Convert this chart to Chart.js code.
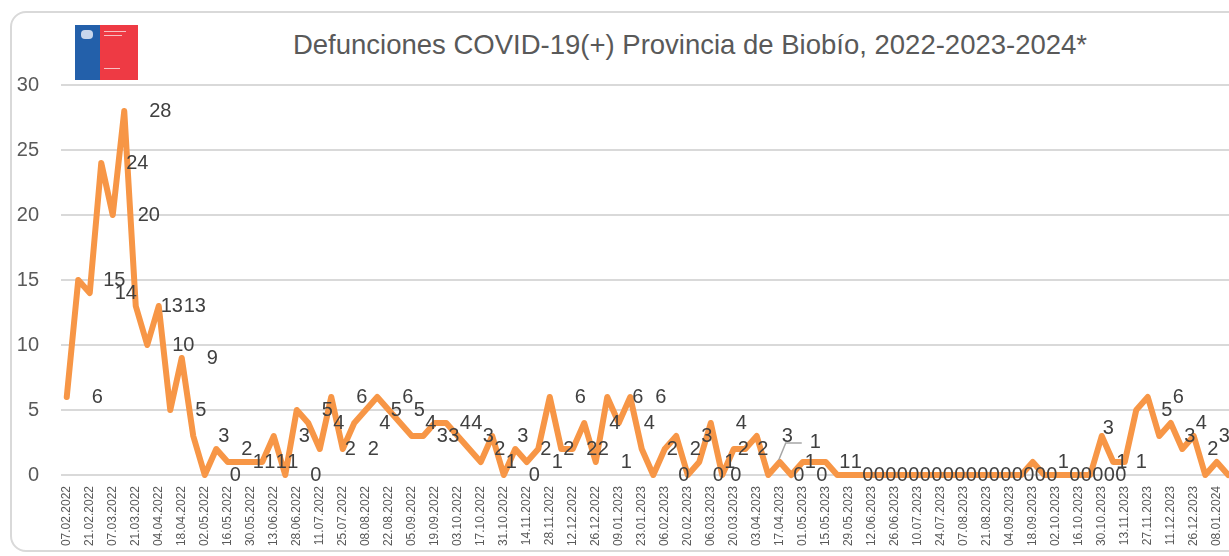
<!DOCTYPE html>
<html>
<head>
<meta charset="utf-8">
<script src="https://cdn.jsdelivr.net/npm/chart.js@4.4.1/dist/chart.umd.min.js"></script>
<style>
  html, body { margin: 0; padding: 0; background: #fff; overflow: hidden; }
  #wrap { position: relative; width: 1229px; height: 556px; overflow: hidden; }
  #frame { position: absolute; left: 10px; top: 11px; width: 1250px; height: 541px;
    border: 2px solid #d9d9d9; border-radius: 16px; box-sizing: border-box; }
  #title { position: absolute; left: 290px; width: 800px; top: 29px; text-align: center;
    font: 27.5px "Liberation Sans", Arial, sans-serif; color: #595959; white-space: nowrap; }
  #logo { position: absolute; left: 75px; top: 25px; width: 63px; height: 55px; }
  #logo .blue { position: absolute; left: 0; top: 0; width: 25px; height: 55px; background: #2360aa; }
  #logo .red { position: absolute; left: 25px; top: 0; width: 38px; height: 55px; background: #ee3a44; }
  #logo .emb { position: absolute; left: 6px; top: 5px; width: 12px; height: 9px; background: #c9d7ec; border-radius: 4px; }
  #logo .t1 { position: absolute; left: 4px; top: 6px; width: 22px; height: 1px; background: #f7c0c3; }
  #logo .t2 { position: absolute; left: 4px; top: 10px; width: 18px; height: 1px; background: #f7c0c3; }
  #logo .t3 { position: absolute; left: 4px; top: 43px; width: 16px; height: 1px; background: #f7c0c3; }
  #chart { position: absolute; left: 0; top: 0; }
</style>
</head>
<body>
<div id="wrap">
  <div id="frame"></div>
  <div id="logo"><div class="blue"><div class="emb"></div></div><div class="red"><div class="t1"></div><div class="t2"></div><div class="t3"></div></div></div>
  <div id="title">Defunciones COVID-19(+) Provincia de Biobío, 2022-2023-2024*</div>
  <canvas id="chart" width="1250" height="556"></canvas>
</div>
<script>
// semanas (lunes)
const weeks = [
  '07.02.2022', '14.02.2022', '21.02.2022', '28.02.2022', '07.03.2022', '14.03.2022',
  '21.03.2022', '28.03.2022', '04.04.2022', '11.04.2022', '18.04.2022', '25.04.2022',
  '02.05.2022', '09.05.2022', '16.05.2022', '23.05.2022', '30.05.2022', '06.06.2022',
  '13.06.2022', '20.06.2022', '28.06.2022', '04.07.2022', '11.07.2022', '18.07.2022',
  '25.07.2022', '01.08.2022', '08.08.2022', '15.08.2022', '22.08.2022', '29.08.2022',
  '05.09.2022', '12.09.2022', '19.09.2022', '26.09.2022', '03.10.2022', '10.10.2022',
  '17.10.2022', '24.10.2022', '31.10.2022', '07.11.2022', '14.11.2022', '21.11.2022',
  '28.11.2022', '05.12.2022', '12.12.2022', '19.12.2022', '26.12.2022', '02.01.2023',
  '09.01.2023', '16.01.2023', '23.01.2023', '30.01.2023', '06.02.2023', '13.02.2023',
  '20.02.2023', '27.02.2023', '06.03.2023', '13.03.2023', '20.03.2023', '27.03.2023',
  '03.04.2023', '10.04.2023', '17.04.2023', '24.04.2023', '01.05.2023', '08.05.2023',
  '15.05.2023', '22.05.2023', '29.05.2023', '05.06.2023', '12.06.2023', '19.06.2023',
  '26.06.2023', '03.07.2023', '10.07.2023', '17.07.2023', '24.07.2023', '31.07.2023',
  '07.08.2023', '14.08.2023', '21.08.2023', '28.08.2023', '04.09.2023', '11.09.2023',
  '18.09.2023', '25.09.2023', '02.10.2023', '09.10.2023', '16.10.2023', '23.10.2023',
  '30.10.2023', '06.11.2023', '13.11.2023', '20.11.2023', '27.11.2023', '04.12.2023',
  '11.12.2023', '18.12.2023', '26.12.2023', '01.01.2024', '08.01.2024', '15.01.2024'
]

// defunciones por semana
const deaths = [
  6, 15, 14, 24, 20, 28, 13, 10, 13, 5, 9, 3, 0, 2, 1, 1, 1, 1, 3, 0,
  5, 4, 2, 6, 2, 4, 5, 6, 5, 4, 3, 3, 4, 4, 3, 2, 1, 3, 0, 2,
  1, 2, 6, 2, 2, 4, 1, 6, 4, 6, 2, 0, 2, 3, 0, 1, 4, 0, 2, 2,
  3, 0, 1, 0, 1, 1, 1, 0, 0, 0, 0, 0, 0, 0, 0, 0, 0, 0, 0, 0,
  0, 0, 0, 0, 1, 0, 0, 0, 0, 0, 3, 1, 1, 5, 6, 3, 4, 2, 3, 0,
  1, 0
]

const yTicks = [0, 5, 10, 15, 20, 25, 30]

// etiquetas de datos a la derecha de cada punto (algunas movidas a mano, como en el original)
const valueLabels = {
  id: 'valueLabels',
  afterDatasetsDraw(chart, args, opts) {
    const ctx = chart.ctx
    const meta = chart.getDatasetMeta(0)
    const shift = opts.shift || {}
    ctx.save()
    ctx.font = '20px "Liberation Sans", Arial, sans-serif'
    ctx.fillStyle = '#404040'
    ctx.textAlign = 'left'
    ctx.textBaseline = 'middle'
    meta.data.forEach((pt, i) => {
      const s = shift[i] || [0, 0]
      ctx.fillText(String(deaths[i]), pt.x + 25 + s[0], pt.y + s[1])
    })
    // línea guía de la etiqueta movida
    ctx.strokeStyle = '#a6a6a6'
    ctx.lineWidth = 1.5
    const p = meta.data[62]
    ctx.beginPath()
    ctx.moveTo(p.x - 1, p.y - 2)
    ctx.lineTo(p.x + 6, p.y - 19)
    ctx.lineTo(p.x + 22, p.y - 19)
    ctx.stroke()
    ctx.restore()
  }
}

new Chart(document.getElementById('chart'), {
  type: 'line',
  data: {
    labels: weeks,
    datasets: [{
      data: deaths,
      borderColor: '#f79646',
      borderWidth: 6,
      borderJoinStyle: 'round',
      borderCapStyle: 'round',
      pointRadius: 0,
      tension: 0,
      clip: false
    }]
  },
  options: {
    responsive: false,
    animation: false,
    layout: { padding: { top: 85, right: 16, bottom: 0, left: 0 } },
    plugins: {
      legend: { display: false },
      tooltip: { enabled: false },
      valueLabels: {
        shift: {
          57: [-17, 0], 58: [-21, 0], 59: [-13, 0],
          64: [-18, -20],
          90: [-24, -8], 91: [-22, 0], 92: [-14, 0]
        }
      }
    },
    scales: {
      x: {
        offset: true,
        grid: { display: false },
        border: { display: false },
        afterFit: (s) => { s.height = 81 },
        ticks: {
          autoSkip: false,
          maxRotation: 90,
          minRotation: 90,
          padding: 3,
          color: '#595959',
          font: { family: '"Liberation Sans", Arial, sans-serif', size: 12 },
          callback: (v, i) => (i % 2 === 0 ? weeks[i] : '')
        }
      },
      y: {
        min: 0,
        max: 30,
        afterFit: (s) => { s.width = 61 },
        afterBuildTicks: (s) => { s.ticks = yTicks.map(v => ({ value: v })) },
        grid: { color: '#d9d9d9', lineWidth: 2, drawTicks: false },
        border: { display: false },
        ticks: {
          padding: 22,
          color: '#595959',
          font: { family: '"Liberation Sans", Arial, sans-serif', size: 20 }
        }
      }
    }
  },
  plugins: [valueLabels]
})
</script>
</body>
</html>
